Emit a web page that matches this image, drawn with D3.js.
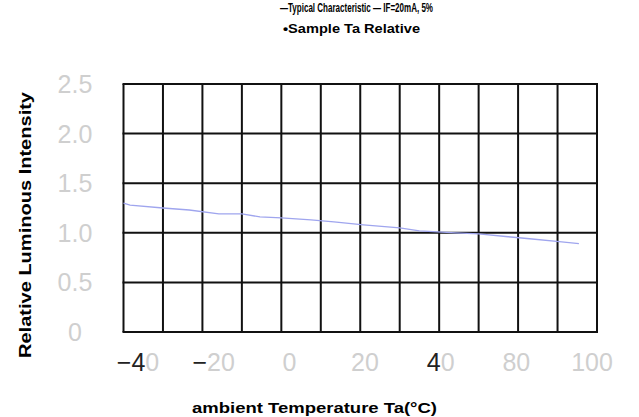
<!DOCTYPE html>
<html>
<head>
<meta charset="utf-8">
<script src="https://cdn.jsdelivr.net/npm/d3@7"></script>
<style>
  html, body { margin: 0; padding: 0; background: #fff; }
  svg { display: block; }
</style>
</head>
<body>
<div id="chart"></div>
<script>
// curve: ambient temperature (°C) vs relative intensity
const temps = [-40, -38, -28, -20, -11, -4, 1.5, 8, 17, 24, 33, 44, 50, 61, 68, 77, 83.5, 92.5, 98.5]
const intensity = [1.30, 1.28, 1.25, 1.23, 1.19, 1.19, 1.16, 1.15, 1.13, 1.11, 1.08, 1.05, 1.02, 1.00, 0.99, 0.96, 0.94, 0.91, 0.89]

const yTicks = [0, 0.5, 1.0, 1.5, 2.0, 2.5]
const xTickLabels = ["\u221240", "\u221220", "0", "20", "40", "80", "100"]
const xTickDark = [2, 1, 0, 0, 1, 0, 0] // leading chars that print dark in the scan

const legendLines = ["\u2015Typical Characteristic \u2015 IF=20mA, 5%", "\u2022Sample Ta Relative"]

const width = 639, height = 417
const margin = {left: 123.5, top: 84, right: 42, bottom: 85}

const svg = d3.select("#chart")
    .append("svg")
    .attr("width", width)
    .attr("height", height)

const x = d3.scaleLinear()
    .domain([-40, 104])
    .range([margin.left, width - margin.right])

const y = d3.scaleLinear()
    .domain([0, 2.5])
    .range([height - margin.bottom, margin.top])

// tick labels on the scan are not evenly scaled, so place them as points
const xLabel = d3.scalePoint()
    .domain(xTickLabels)
    .range([138, 592])

// grid
const grid = svg.append("g")
    .attr("stroke", "#111")
    .attr("stroke-width", 2)

grid.selectAll(".vx")
    .data(d3.range(-40, 105, 12))
    .join("line")
    .attr("x1", d => x(d))
    .attr("x2", d => x(d))
    .attr("y1", y(0))
    .attr("y2", y(2.5))

grid.selectAll(".hy")
    .data(yTicks)
    .join("line")
    .attr("x1", x(-40) - 1)
    .attr("x2", x(104) + 1)
    .attr("y1", d => y(d))
    .attr("y2", d => y(d))

// data line
const line = d3.line()
    .x((d, i) => x(temps[i]))
    .y(d => y(d))

svg.append("path")
    .datum(intensity)
    .attr("fill", "none")
    .attr("stroke", "#9fa5ee")
    .attr("stroke-width", 1.3)
    .attr("d", line)

// y tick labels
svg.append("g").selectAll("text")
    .data(yTicks)
    .join("text")
    .attr("x", 75)
    .attr("y", d => y(d) + 9)
    .attr("text-anchor", "middle")
    .attr("font-family", "Liberation Sans, Arial, sans-serif")
    .attr("font-size", "25px")
    .attr("fill", "#cfcfcf")
    .text(d => d === 0 ? "0" : d.toFixed(1))

// x tick labels
const xt = svg.append("g").selectAll("text")
    .data(xTickLabels)
    .join("text")
    .attr("x", d => xLabel(d))
    .attr("y", 371)
    .attr("text-anchor", "middle")
    .attr("font-family", "Liberation Sans, Arial, sans-serif")
    .attr("font-size", "25px")
    .attr("fill", "#cfcfcf")

xt.append("tspan")
    .attr("fill", "#222")
    .text((d, i) => d.slice(0, xTickDark[i]))
xt.append("tspan")
    .text((d, i) => d.slice(xTickDark[i]))

// axis titles
svg.append("text")
    .attr("transform", "translate(31,358) rotate(-90)")
    .attr("font-family", "Liberation Sans Narrow, Liberation Sans, Arial, sans-serif")
    .attr("font-weight", "bold")
    .attr("font-size", "16px")
    .attr("fill", "#000")
    .attr("textLength", 266)
    .attr("lengthAdjust", "spacingAndGlyphs")
    .text("Relative Luminous Intensity")

svg.append("text")
    .attr("x", 192)
    .attr("y", 413)
    .attr("font-family", "Liberation Sans Narrow, Liberation Sans, Arial, sans-serif")
    .attr("font-weight", "bold")
    .attr("font-size", "14px")
    .attr("fill", "#000")
    .attr("textLength", 245)
    .attr("lengthAdjust", "spacingAndGlyphs")
    .text("ambient Temperature Ta(\u00b0C)")

// legend text at the top
svg.append("g").selectAll("text")
    .data(legendLines)
    .join("text")
    .attr("x", (d, i) => i === 0 ? 280 : 283)
    .attr("y", (d, i) => 12 + i * 21)
    .attr("font-family", "Liberation Sans Narrow, Liberation Sans, Arial, sans-serif")
    .attr("font-weight", "bold")
    .attr("font-size", "12px")
    .attr("fill", "#000")
    .attr("textLength", (d, i) => i === 0 ? 153 : 137)
    .attr("lengthAdjust", "spacingAndGlyphs")
    .text(d => d)
</script>
</body>
</html>
